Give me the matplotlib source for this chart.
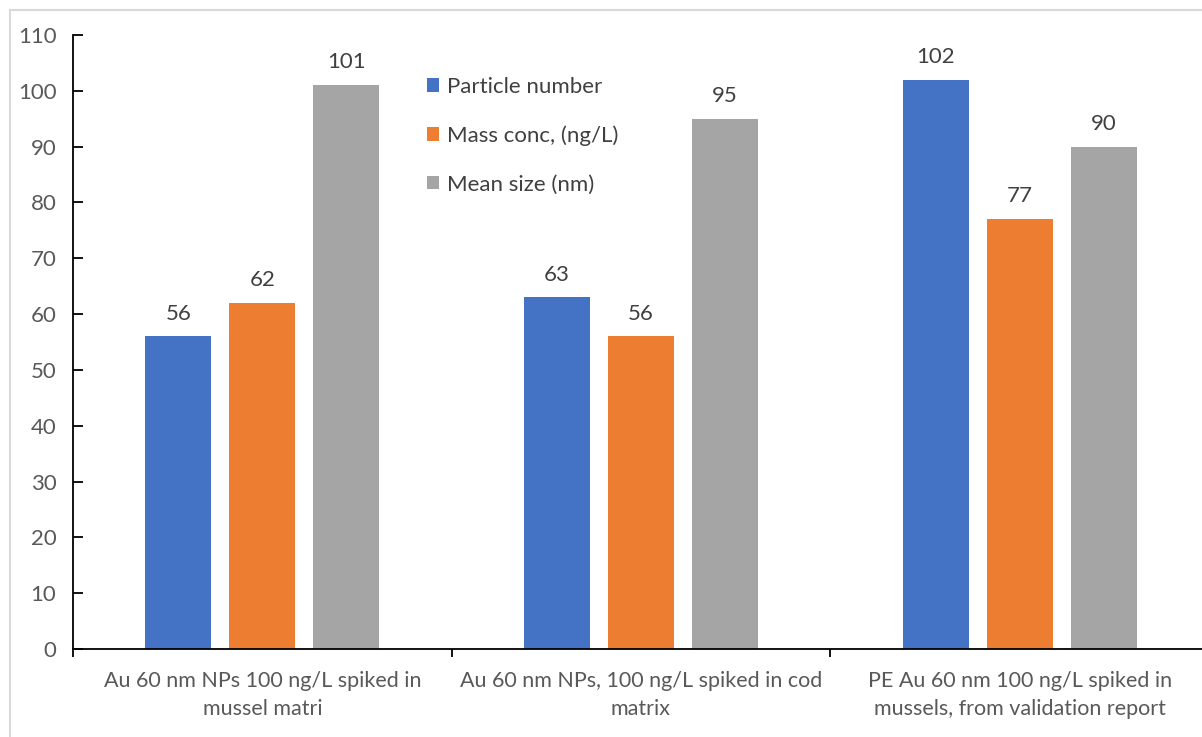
import numpy as np
import matplotlib.pyplot as plt
from matplotlib.patches import Rectangle

categories = [
    "Au 60 nm NPs 100 ng/L spiked in\nmussel matri",
    "Au 60 nm NPs, 100 ng/L spiked in cod\nmatrix",
    "PE Au 60 nm 100 ng/L spiked in\nmussels, from validation report",
]
series_names = ["Particle number", "Mass conc, (ng/L)", "Mean size (nm)"]
particle_number = [56, 63, 102]
mass_conc = [62, 56, 77]
mean_size = [101, 95, 90]

colors = ["#4472C4", "#ED7D31", "#A5A5A5"]
text_col = "#404040"
tick_col = "#595959"
fs = 16

plt.rcParams["font.family"] = ["Lato", "DejaVu Sans"]

fig = plt.figure(figsize=(12.02, 7.37), dpi=100)
# axes runs slightly past the right edge of the canvas
ax = fig.add_axes([73 / 1202, 1 - 649 / 737, (1209 - 73) / 1202, (649 - 35) / 737])

x = np.arange(len(categories))
width = 0.174
step = 0.222
all_series = [particle_number, mass_conc, mean_size]
for i, (vals, name, c) in enumerate(zip(all_series, series_names, colors)):
    bars = ax.bar(x + (i - 1) * step, vals, width, color=c, label=name, zorder=2)
    for b, v in zip(bars, vals):
        ax.text(b.get_x() + b.get_width() / 2, v + 2.3, str(v), ha="center",
                va="bottom", fontsize=fs, color=text_col)

ax.set_xlim(-0.5, 2.5)
ax.set_ylim(0, 110)
ax.set_yticks(np.arange(0, 111, 10))
ax.tick_params(axis="y", direction="in", length=7, width=1.3, colors="black",
               labelcolor=tick_col, labelsize=fs, pad=12)
ax.set_xticks([-0.5, 0.5, 1.5, 2.5])
ax.set_xticklabels([])
ax.set_xticks(x, minor=True)
ax.set_xticklabels(categories, minor=True, fontsize=15.5, color=tick_col,
                   linespacing=1.5)
ax.tick_params(axis="x", which="major", direction="out", length=6, width=1.3)
ax.tick_params(axis="x", which="minor", length=0, pad=16)
for s in ["top", "right"]:
    ax.spines[s].set_visible(False)
ax.spines["left"].set_linewidth(1.3)
ax.spines["bottom"].set_linewidth(1.3)

leg = ax.legend(loc="upper left", bbox_to_anchor=(345 / 1136, 1 - 33 / 614),
                frameon=False, fontsize=fs, handlelength=0.55, handleheight=0.55,
                handletextpad=0.35, labelspacing=1.28, borderaxespad=0)
for t in leg.get_texts():
    t.set_color(text_col)

# light outline of the chart area
fig.patches.append(Rectangle((10 / 1202, -0.1), 1.2, 1 - 10 / 737 + 0.1,
                             transform=fig.transFigure, fill=False,
                             edgecolor="#D9D9D9", linewidth=1.5))

fig.savefig("out.png", dpi=100)
